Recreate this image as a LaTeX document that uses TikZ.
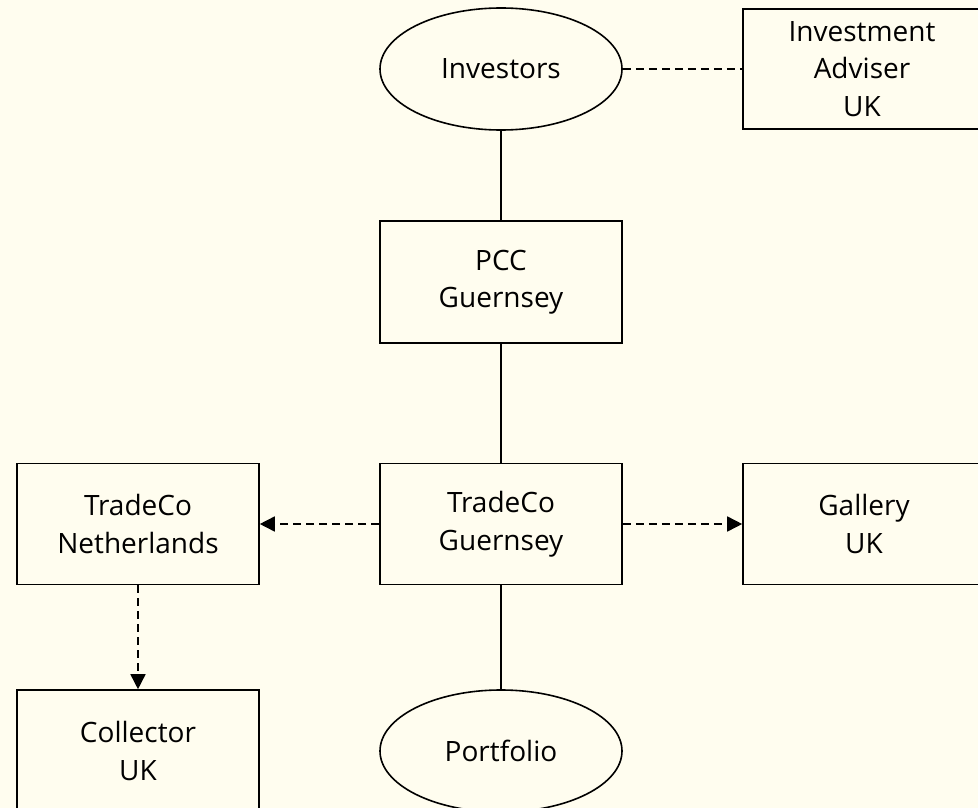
\documentclass[tikz,border=0pt]{standalone}
\usepackage{fontspec}
\setmainfont{Open Sans}
\usetikzlibrary{arrows.meta,shapes.geometric}
\definecolor{bgcream}{HTML}{FFFDEF}
\tikzset{
  lbl/.style={font=\fontsize{28}{37.5}\selectfont, align=center, text=black, inner sep=0pt},
  boxnode/.style={lbl, draw=black, line width=1.6pt, fill=bgcream, rectangle, minimum width=242pt, minimum height=121pt},
  ellnode/.style={lbl, draw=black, line width=1.6pt, fill=bgcream, ellipse, minimum width=242pt, minimum height=122pt},
  solidlink/.style={draw=black, line width=1.6pt},
  dashlink/.style={draw=black, line width=1.6pt, dash pattern=on 8pt off 5pt},
  dasharrow/.style={dashlink, -{Triangle[length=15pt,width=15pt]}}
}
\begin{document}
\begin{tikzpicture}[x=1pt,y=-1pt]
\clip (0,0) rectangle (978,808);
\fill[bgcream] (0,0) rectangle (978,808);
\node[ellnode] (inv) at (501,69) {Investors};
\node[boxnode, minimum width=238pt, minimum height=120pt] (adv) at (862,69) {Investment\\Adviser\\UK};
\node[boxnode, minimum height=122pt] (pcc) at (501,282) {PCC\\Guernsey};
\node[boxnode] (tg) at (501,524) {TradeCo\\Guernsey};
\node[boxnode] (tn) at (138,524) {TradeCo\\Netherlands};
\node[boxnode] (gal) at (864,524) {Gallery\\UK};
\node[boxnode, minimum height=122pt] (col) at (138,751) {Collector\\UK};
\node[ellnode] (port) at (501,751) {Portfolio};
\draw[dashlink] (inv) -- (adv);
\draw[solidlink] (inv) -- (pcc);
\draw[solidlink] (pcc) -- (tg);
\draw[solidlink] (tg) -- (port);
\draw[dasharrow] (tg) -- (tn);
\draw[dasharrow] (tg) -- (gal);
\draw[dasharrow] (tn) -- (col);
\end{tikzpicture}
\end{document}
